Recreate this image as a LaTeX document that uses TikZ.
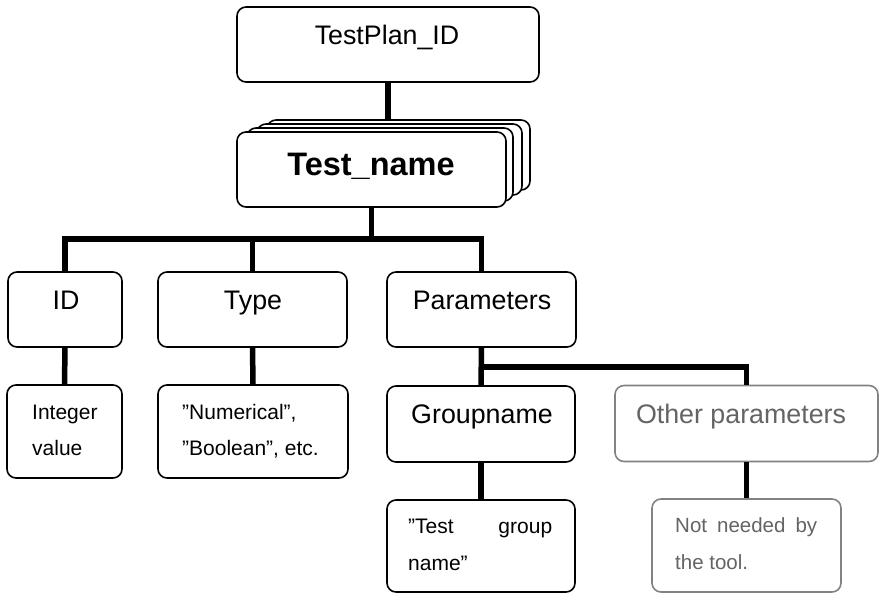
\documentclass[tikz,border=0pt]{standalone}
\usepackage{fontspec}
\setmainfont{Liberation Sans}
\definecolor{grayT}{RGB}{100,100,100}
\definecolor{grayB}{RGB}{130,130,130}
\begin{document}
\begin{tikzpicture}[x=1pt,y=-1pt,
  box/.style={draw=black,line width=1.6pt,rounded corners=9pt,fill=white,rectangle,inner sep=0pt},
  gbox/.style={box,draw=grayB},
  conn/.style={line width=5.5pt,line join=miter,line cap=butt},
  big/.style={font=\fontsize{26.8}{30}\selectfont,anchor=base,inner sep=0pt},
  small/.style={font=\fontsize{21}{24}\selectfont,anchor=base west,inner sep=0pt},
  tiny/.style={font=\fontsize{20.5}{24}\selectfont,anchor=base west,inner sep=0pt,text=grayT}]
\useasboundingbox (0,0) rectangle (882,594);
% boxes
\node[box,minimum width=302pt,minimum height=75pt] (tp) at (388,44.5) {};
\node[box,minimum width=263pt,minimum height=70pt] (bk3) at (398.5,155) {};
\node[box,minimum width=265pt,minimum height=71pt] (bk2) at (389.5,159.5) {};
\node[box,minimum width=266pt,minimum height=73pt] (bk1) at (380,164.5) {};
\node[box,minimum width=269pt,minimum height=75pt] (tn) at (371.5,169.5) {};
\node[box,minimum width=114pt,minimum height=75pt] (id) at (65,309.5) {};
\node[box,minimum width=189pt,minimum height=75pt] (ty) at (252.5,309.5) {};
\node[box,minimum width=189pt,minimum height=75pt] (par) at (481.5,309.5) {};
\node[box,minimum width=188pt,minimum height=76pt] (gn) at (481,424) {};
\node[gbox,minimum width=263pt,minimum height=76pt] (op) at (746.5,423.5) {};
\node[box,minimum width=115pt,minimum height=93pt] (iv) at (64.5,431.5) {};
\node[box,minimum width=190pt,minimum height=93pt] (nb) at (253,431.5) {};
\node[box,minimum width=188pt,minimum height=92pt] (tg) at (481,546) {};
\node[gbox,minimum width=189pt,minimum height=93pt] (nn) at (746.5,545.5) {};
% texts
\node[big] (tpt) at (387,45) {TestPlan\_ID};
\node[font=\fontsize{32.5}{36}\selectfont\bfseries,anchor=base,inner sep=0pt] (tnt) at (371,175) {Test\_name};
\node[big] (idt) at (66,309) {ID};
\node[big] (tyt) at (253,309) {Type};
\node[big] (part) at (482,309) {Parameters};
\node[big] (gnt) at (482,423) {Groupname};
\node[big,text=grayT] (opt) at (741,423) {Other parameters};
\node[small] (ivt1) at (32,419) {Integer};
\node[small] (ivt2) at (32,455) {value};
\node[small] (nbt1) at (182,419) {”Numerical”,};
\node[small] (nbt2) at (182,455) {”Boolean”, etc.};
\node[small] (tgt1) at (408,533) {\makebox[144pt][s]{”Test group}};
\node[small] (tgt2) at (408,570) {name”};
\node[tiny] (nnt1) at (675,532) {\makebox[142pt][s]{Not needed by}};
\node[tiny] (nnt2) at (675,569) {the tool.};
% connectors
\coordinate (b1) at (0,239);
\coordinate (b2) at (0,367);
\draw[conn] (tp.south) -- (tp.south |- bk3.north);
\draw[conn] (tn.south) -- (tn.south |- b1);
\draw[conn] (id.north) -- (id.north |- b1) -- (par.north |- b1) -- (par.north);
\draw[conn] (ty.north) -- (ty.north |- b1);
\draw[conn] (par.south) -- (gn.north);
\draw[conn] (par.south |- b2) -- (op.north |- b2) -- (op.north);
\draw[conn] (id.south) -- (iv.north);
\draw[conn] (ty.south) -- (nb.north);
\draw[conn] (gn.south) -- (tg.north);
\draw[conn] (op.south) -- (nn.north);
\end{tikzpicture}
\end{document}
